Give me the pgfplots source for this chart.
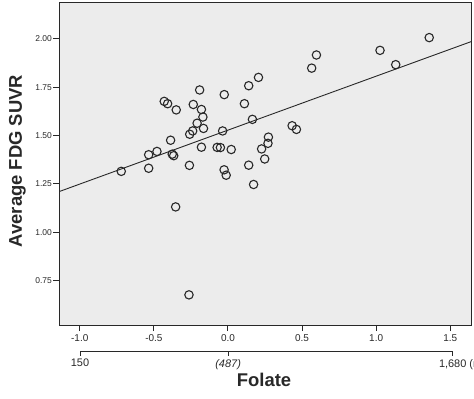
\documentclass[border=0pt]{standalone}
\usepackage{pgfplots}
\pgfplotsset{compat=1.18}
\usepackage{fontspec}
\setmainfont{Liberation Sans}
\definecolor{panel}{RGB}{236,236,236}
\definecolor{ink}{RGB}{40,40,40}

\begin{document}
\begin{tikzpicture}[x=1bp,y=1bp]
\useasboundingbox (0,0) rectangle (474,398);

% main scatter panel (z-scored folate vs. FDG SUVR)
\begin{axis}[
  at={(59bp,73bp)}, anchor=south west,
  scale only axis, width=412bp, height=322bp,
  xmin=-1.14, xmax=1.64, ymin=0.52, ymax=2.186,
  axis background/.style={fill=panel},
  axis line style={draw=ink, line width=1bp},
  every tick/.style={draw=ink, line width=1bp},
  xtick={-1,-0.5,0,0.5,1,1.5},
  xticklabels={-1.0,-0.5,0.0,0.5,1.0,1.5},
  ytick={0.75,1,1.25,1.5,1.75,2},
  yticklabels={0.75,1.00,1.25,1.50,1.75,2.00},
  tick align=outside, xtick pos=bottom, ytick pos=left,
  major tick length=6bp,
  xticklabel style={font=\fontsize{10}{12}\selectfont, text=ink},
  yticklabel style={font=\fontsize{8.5}{10}\selectfont, text=ink, inner sep=1bp},
]
\addplot[only marks, mark=o, mark size=4.2bp,
  mark options={draw=ink, line width=1.1bp, fill=none}] coordinates {
  (-0.720,1.315) (-0.535,1.331) (-0.535,1.401) (-0.479,1.418)
  (-0.430,1.677) (-0.407,1.665) (-0.387,1.476) (-0.376,1.404)
  (-0.366,1.396) (-0.349,1.633) (-0.353,1.131) (-0.263,0.676)
  (-0.260,1.346) (-0.258,1.507) (-0.238,1.524) (-0.234,1.661)
  (-0.208,1.564) (-0.191,1.736) (-0.179,1.635) (-0.169,1.596)
  (-0.165,1.537) (-0.179,1.440) (-0.073,1.439) (-0.051,1.438)
  (-0.036,1.524) (-0.025,1.712) (-0.026,1.323) (-0.012,1.295)
  (0.022,1.428) (0.111,1.665) (0.140,1.758) (0.206,1.801)
  (0.165,1.584) (0.140,1.347) (0.173,1.247) (0.227,1.431)
  (0.248,1.379) (0.270,1.460) (0.273,1.492) (0.433,1.551)
  (0.462,1.532) (0.565,1.849) (0.597,1.917) (1.026,1.941)
  (1.132,1.867) (1.358,2.007)
};
% fitted line
\addplot[draw=ink, line width=0.9bp] coordinates {(-1.14,1.210) (1.64,1.986)};
\end{axis}

% raw folate scale under the z-score axis
\begin{axis}[
  at={(80bp,46.3bp)}, anchor=south west,
  scale only axis, width=372.7bp, height=1bp,
  xmin=-1, xmax=1.516, ymin=0, ymax=1,
  axis x line*=bottom, hide y axis,
  axis line style={draw=ink, line width=1bp},
  every tick/.style={draw=ink, line width=1bp},
  xtick={-1,0,1.516},
  xticklabels={150,\textit{(487)},{1,680\rlap{ (ng/mL)}}},
  tick align=outside, major tick length=4bp,
  xticklabel style={font=\fontsize{11}{13}\selectfont, text=ink},
]
\addplot[draw=none] coordinates {(0,0)};
\end{axis}

\node[font=\fontsize{18.5}{20}\selectfont\bfseries, text=ink] at (264,18) {Folate};
\node[font=\fontsize{18.5}{20}\selectfont\bfseries, text=ink, rotate=90] at (17.5,237) {Average FDG SUVR};
\end{tikzpicture}
\end{document}
